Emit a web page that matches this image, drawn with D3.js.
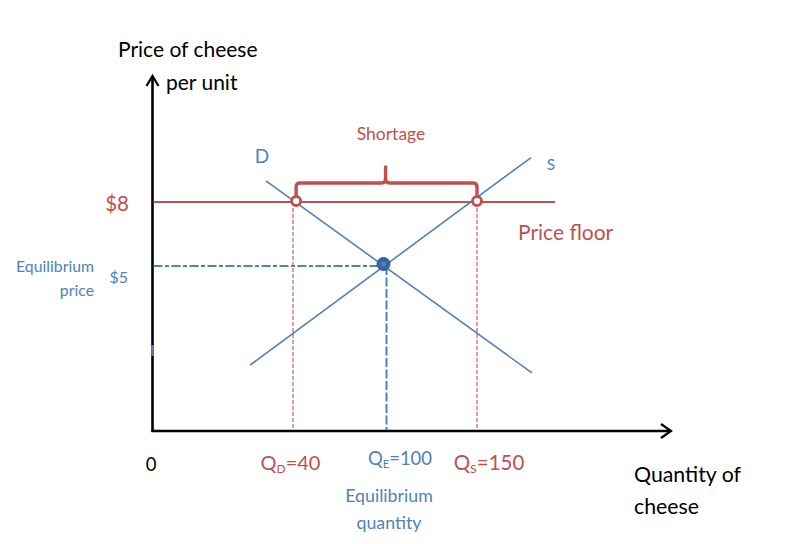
<!DOCTYPE html>
<html><head><meta charset="utf-8">
<script src="https://cdn.jsdelivr.net/npm/d3@7"></script>
<style>body{margin:0;background:#fff}svg{display:block}text{font-family:Lato,"Open Sans",sans-serif}</style>
</head><body><svg id="c" width="785" height="544"></svg>
<script>
// ---- data ----
const quantityTicks = [40, 100, 150];          // QD, QE, QS
const priceTicks = [5, 8];                      // equilibrium price, price floor
const priceFloor = 8;
const eqPrice = 5, eqQuantity = 100;
const demandLine = [{q: 32.3, p: 9.0}, {q: 181, p: 1.76}];
const supplyLine = [{q: 27.8, p: 2.0}, {q: 180.5, p: 10.1}];
const floorMarkers = [42, 150];               // quantities demanded / supplied at floor
const floorLineEnd = 194;

const red = "#c0504d", blue = "#4f81bd";
const svg = d3.select("#c");

// schematic (not to scale) axes scales
const x = d3.scaleLinear().domain([0, 40, 100, 150, 260]).range([152.5, 293, 386.5, 477, 672]);
const y = d3.scaleLinear().domain([0, 5, 8, 14]).range([431, 266, 202, 75]);

// axes
const ax = svg.append("g").attr("stroke", "#000").attr("fill", "none").attr("stroke-width", 2.6);
ax.append("line").attr("x1", x(0)).attr("y1", y(0) + 1).attr("x2", x(0)).attr("y2", y(14) + 1);
ax.append("path").attr("d", `M${x(0)-6},${y(14)+11}L${x(0)},${y(14)+1}L${x(0)+6},${y(14)+11}`).attr("stroke-width", 2.2);
ax.append("line").attr("x1", x(0) - 1).attr("y1", y(0)).attr("x2", x(260) - 1).attr("y2", y(0));
ax.append("path").attr("d", `M${x(260)-11},${y(0)-7}L${x(260)-1},${y(0)}L${x(260)-11},${y(0)+7}`).attr("stroke-width", 2.2);
// small blue mark on y axis
svg.append("line").attr("x1", x(0)).attr("x2", x(0)).attr("y1", 345).attr("y2", 356).attr("stroke", blue).attr("stroke-width", 2.6);

// dashed guides
svg.selectAll(".qd").data([quantityTicks[0], quantityTicks[2]]).join("line")
  .attr("x1", d => x(d)).attr("x2", d => x(d)).attr("y1", y(priceFloor)).attr("y2", y(0) - 1)
  .attr("stroke", red).attr("stroke-width", 1.3).attr("stroke-dasharray", "4,2").attr("opacity", 0.85);
svg.append("line").attr("x1", x(eqQuantity)).attr("x2", x(eqQuantity)).attr("y1", y(eqPrice)).attr("y2", y(0) - 1)
  .attr("stroke", blue).attr("stroke-width", 2).attr("stroke-dasharray", "9,2.5");
svg.append("line").attr("x1", x(0) + 1).attr("x2", x(eqQuantity)).attr("y1", y(eqPrice)).attr("y2", y(eqPrice))
  .attr("stroke", blue).attr("stroke-width", 2).attr("stroke-dasharray", "9,2.5,4,2.5");

// price floor line
svg.append("line").attr("x1", x(0) + 1).attr("x2", x(floorLineEnd)).attr("y1", y(priceFloor)).attr("y2", y(priceFloor))
  .attr("stroke", red).attr("stroke-width", 2);

// demand & supply
const line = d3.line().x(d => x(d.q)).y(d => y(d.p));
svg.append("path").datum(demandLine).attr("d", line).attr("stroke", blue).attr("stroke-width", 1.6).attr("fill", "none");
svg.append("path").datum(supplyLine).attr("d", line).attr("stroke", blue).attr("stroke-width", 1.6).attr("fill", "none");

// brace
const bx0 = x(floorMarkers[0]), bx1 = x(floorMarkers[1]), bm = (bx0 + bx1) / 2 - 1;
const by = y(priceFloor) - 19;
svg.append("path")
  .attr("d", `M${bx0},${y(priceFloor)-4}L${bx0},${by+4}Q${bx0},${by} ${bx0+4},${by}L${bm-4},${by}Q${bm},${by} ${bm},${by-4}L${bm},${by-16}L${bm},${by-4}Q${bm},${by} ${bm+4},${by}L${bx1-4},${by}Q${bx1},${by} ${bx1},${by+4}L${bx1},${y(priceFloor)-4}`)
  .attr("fill", "none").attr("stroke", red).attr("stroke-width", 3.4).attr("stroke-linejoin", "round");

// markers
svg.selectAll(".mk").data(floorMarkers).join("circle")
  .attr("cx", d => x(d)).attr("cy", y(priceFloor) - 1).attr("r", 4.5)
  .attr("fill", "#fff").attr("stroke", red).attr("stroke-width", 2.8);
svg.append("circle").attr("cx", x(eqQuantity) - 3).attr("cy", y(eqPrice) - 2).attr("r", 6.5)
  .attr("fill", "#3a64a0").attr("stroke", "#2f5589").attr("stroke-width", 1);
svg.append("circle").attr("cx", x(eqQuantity) - 3).attr("cy", y(eqPrice) - 2).attr("r", 2.5).attr("fill", "#4f7fc0");

// texts
function txt(s, tx, ty, size, color, anchor) {
  return svg.append("text").attr("x", tx).attr("y", ty).attr("font-size", size).attr("fill", color)
    .attr("text-anchor", anchor || "start").text(s);
}
txt("Price of cheese", 118, 57, 21, "#000");
txt("per unit", 166, 90, 21, "#000");
txt("Quantity of", 634, 482, 21.3, "#000");
txt("cheese", 634, 514, 21.3, "#000");
txt("0", 151, 471, 18.5, "#000", "middle");
txt("Shortage", 391, 140, 17.5, red, "middle");
txt("D", 262, 163, 19, blue, "middle");
txt("S", 551, 170, 15.5, blue, "middle");
txt("Price floor", 518, 240, 21, red);
txt("$" + priceTicks[1], 129, 211, 20.5, red, "end");
txt("$" + priceTicks[0], 128, 283, 16, blue, "end");
txt("Equilibrium", 94, 272, 15.8, blue, "end");
txt("price", 94, 296, 15.8, blue, "end");
txt("Equilibrium", 389, 502, 17.8, blue, "middle");
txt("quantity", 389, 529, 17.8, blue, "middle");

function qlabel(sub, val, cx, ty, size, color) {
  const t = svg.append("text").attr("x", cx).attr("y", ty).attr("font-size", size).attr("fill", color).attr("text-anchor", "middle");
  t.append("tspan").text("Q");
  t.append("tspan").attr("font-size", size * 0.6).attr("dy", 3).text(sub);
  t.append("tspan").attr("dy", -3).text("=" + val);
}
qlabel("D", quantityTicks[0], x(quantityTicks[0]) - 2.5, 470, 20, red);
qlabel("E", quantityTicks[1], x(quantityTicks[1]) + 13.5, 465, 18.5, blue);
qlabel("S", quantityTicks[2], x(quantityTicks[2]) + 12, 470, 20.5, red);
</script></body></html>
